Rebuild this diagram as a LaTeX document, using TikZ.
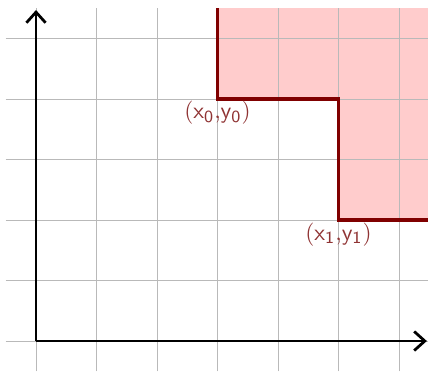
\documentclass[tikz,border=0pt]{standalone}
\usetikzlibrary{arrows.meta}
\begin{document}
\begin{tikzpicture}[
  gridline/.style={gray!55, line width=0.4pt},
  axis/.style={line width=1.3pt, -{Straight Barb[length=5pt,width=9pt]}},
  edge/.style={draw=red!50!black, line width=1.5pt},
  ptlabel/.style={text=red!45!black!80, inner sep=1pt, font=\fontsize{11}{13}\selectfont}
]
\useasboundingbox (-0.595,-0.496) rectangle (6.479,5.636);
\clip (-0.595,-0.496) rectangle (6.479,5.636);
\fill[red!20] (3,5.5) -- (3,4) -- (5,4) -- (5,2) -- (6.6,2) -- (6.6,5.5) -- cycle;
\draw[gridline] (-0.5,-0.5) grid (6.5,5.5);
\draw[edge] (3,5.5) -- (3,4) -- (5,4) -- (5,2) -- (6.6,2);
\coordinate (O) at (0,0);
\coordinate (xe) at (6.46,0);
\coordinate (ye) at (0,5.47);
\draw[axis] (O) -- (xe);
\draw[axis] (O) -- (ye);
\coordinate (p0) at (3,4);
\coordinate (p1) at (5,2);
\node[ptlabel, below] (l0) at (p0) {$\mathsf{(x_0{,}y_0)}$};
\node[ptlabel, below] (l1) at (p1) {$\mathsf{(x_1{,}y_1)}$};
\end{tikzpicture}
\end{document}
